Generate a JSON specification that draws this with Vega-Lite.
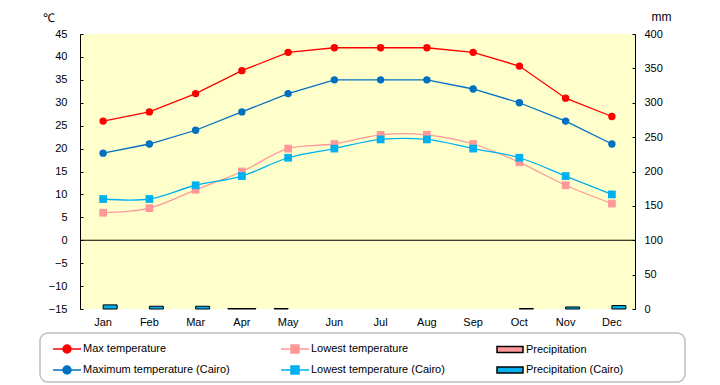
{
  "$schema": "https://vega.github.io/schema/vega-lite/v6.json",
  "width": 555,
  "height": 275,
  "autosize": "none",
  "padding": {"left": 80, "top": 34, "right": 85, "bottom": 76},
  "background": "white",
  "config": {
    "view": {"fill": "#FFFFCC", "stroke": null},
    "font": "Liberation Sans",
    "axis": {"labelFont": "Liberation Sans", "labelFontSize": 11, "labelColor": "black", "domainColor": "black", "tickColor": "black", "grid": false, "titleFont": "Liberation Sans", "titleFontWeight": "normal", "titleFontSize": 12, "titleColor": "black", "labelOverlap": false},
    "legend": {"strokeWidth": 1.5}
  },
  "datasets": {
    "temp": [
      {"month": "Jan", "series": "Max temperature", "value": 26},
      {"month": "Feb", "series": "Max temperature", "value": 28},
      {"month": "Mar", "series": "Max temperature", "value": 32},
      {"month": "Apr", "series": "Max temperature", "value": 37},
      {"month": "May", "series": "Max temperature", "value": 41},
      {"month": "Jun", "series": "Max temperature", "value": 42},
      {"month": "Jul", "series": "Max temperature", "value": 42},
      {"month": "Aug", "series": "Max temperature", "value": 42},
      {"month": "Sep", "series": "Max temperature", "value": 41},
      {"month": "Oct", "series": "Max temperature", "value": 38},
      {"month": "Nov", "series": "Max temperature", "value": 31},
      {"month": "Dec", "series": "Max temperature", "value": 27},
      {"month": "Jan", "series": "Lowest temperature", "value": 6},
      {"month": "Feb", "series": "Lowest temperature", "value": 7},
      {"month": "Mar", "series": "Lowest temperature", "value": 11},
      {"month": "Apr", "series": "Lowest temperature", "value": 15},
      {"month": "May", "series": "Lowest temperature", "value": 20},
      {"month": "Jun", "series": "Lowest temperature", "value": 21},
      {"month": "Jul", "series": "Lowest temperature", "value": 23},
      {"month": "Aug", "series": "Lowest temperature", "value": 23},
      {"month": "Sep", "series": "Lowest temperature", "value": 21},
      {"month": "Oct", "series": "Lowest temperature", "value": 17},
      {"month": "Nov", "series": "Lowest temperature", "value": 12},
      {"month": "Dec", "series": "Lowest temperature", "value": 8},
      {"month": "Jan", "series": "Maximum temperature (Cairo)", "value": 19},
      {"month": "Feb", "series": "Maximum temperature (Cairo)", "value": 21},
      {"month": "Mar", "series": "Maximum temperature (Cairo)", "value": 24},
      {"month": "Apr", "series": "Maximum temperature (Cairo)", "value": 28},
      {"month": "May", "series": "Maximum temperature (Cairo)", "value": 32},
      {"month": "Jun", "series": "Maximum temperature (Cairo)", "value": 35},
      {"month": "Jul", "series": "Maximum temperature (Cairo)", "value": 35},
      {"month": "Aug", "series": "Maximum temperature (Cairo)", "value": 35},
      {"month": "Sep", "series": "Maximum temperature (Cairo)", "value": 33},
      {"month": "Oct", "series": "Maximum temperature (Cairo)", "value": 30},
      {"month": "Nov", "series": "Maximum temperature (Cairo)", "value": 26},
      {"month": "Dec", "series": "Maximum temperature (Cairo)", "value": 21},
      {"month": "Jan", "series": "Lowest temperature (Cairo)", "value": 9},
      {"month": "Feb", "series": "Lowest temperature (Cairo)", "value": 9},
      {"month": "Mar", "series": "Lowest temperature (Cairo)", "value": 12},
      {"month": "Apr", "series": "Lowest temperature (Cairo)", "value": 14},
      {"month": "May", "series": "Lowest temperature (Cairo)", "value": 18},
      {"month": "Jun", "series": "Lowest temperature (Cairo)", "value": 20},
      {"month": "Jul", "series": "Lowest temperature (Cairo)", "value": 22},
      {"month": "Aug", "series": "Lowest temperature (Cairo)", "value": 22},
      {"month": "Sep", "series": "Lowest temperature (Cairo)", "value": 20},
      {"month": "Oct", "series": "Lowest temperature (Cairo)", "value": 18},
      {"month": "Nov", "series": "Lowest temperature (Cairo)", "value": 14},
      {"month": "Dec", "series": "Lowest temperature (Cairo)", "value": 10}
    ],
    "precip": [
      {"month": "Jan", "series": "Precipitation", "value": 0},
      {"month": "Feb", "series": "Precipitation", "value": 0},
      {"month": "Mar", "series": "Precipitation", "value": 0},
      {"month": "Apr", "series": "Precipitation", "value": 0.7},
      {"month": "May", "series": "Precipitation", "value": 0.7},
      {"month": "Jun", "series": "Precipitation", "value": 0},
      {"month": "Jul", "series": "Precipitation", "value": 0},
      {"month": "Aug", "series": "Precipitation", "value": 0},
      {"month": "Sep", "series": "Precipitation", "value": 0},
      {"month": "Oct", "series": "Precipitation", "value": 0},
      {"month": "Nov", "series": "Precipitation", "value": 0},
      {"month": "Dec", "series": "Precipitation", "value": 0},
      {"month": "Jan", "series": "Precipitation (Cairo)", "value": 6},
      {"month": "Feb", "series": "Precipitation (Cairo)", "value": 4},
      {"month": "Mar", "series": "Precipitation (Cairo)", "value": 4},
      {"month": "Apr", "series": "Precipitation (Cairo)", "value": 0.7},
      {"month": "May", "series": "Precipitation (Cairo)", "value": 0},
      {"month": "Jun", "series": "Precipitation (Cairo)", "value": 0},
      {"month": "Jul", "series": "Precipitation (Cairo)", "value": 0},
      {"month": "Aug", "series": "Precipitation (Cairo)", "value": 0},
      {"month": "Sep", "series": "Precipitation (Cairo)", "value": 0},
      {"month": "Oct", "series": "Precipitation (Cairo)", "value": 0.7},
      {"month": "Nov", "series": "Precipitation (Cairo)", "value": 3},
      {"month": "Dec", "series": "Precipitation (Cairo)", "value": 5}
    ]
  },
  "layer": [
    {
      "layer": [
        {
          "data": {"name": "temp"},
          "transform": [{"filter": "indexof(datum.series, 'Max') == 0"}],
          "mark": {"type": "line", "strokeWidth": 1.3},
          "encoding": {
            "x": {"field": "month", "type": "ordinal", "sort": ["Jan","Feb","Mar","Apr","May","Jun","Jul","Aug","Sep","Oct","Nov","Dec"], "scale": {"paddingInner": 0, "paddingOuter": 0}, "axis": {"title": null, "labelAngle": 0, "domain": false, "ticks": false, "labelPadding": 7}},
            "y": {"field": "value", "type": "quantitative", "scale": {"domain": [-15, 45], "nice": false, "zero": false}, "axis": {"orient": "left", "values": [-15,-10,-5,0,5,10,15,20,25,30,35,40,45], "tickCount": 13, "labelOverlap": false, "labelFlush": false, "title": "℃", "titleAngle": 0, "titleX": -32, "titleY": -17, "titleAlign": "center", "titleBaseline": "middle", "tickSize": -3, "labelPadding": 16}},
            "stroke": {"field": "series", "type": "nominal", "scale": {"domain": ["Max temperature","Lowest temperature","Precipitation","Maximum temperature (Cairo)","Lowest temperature (Cairo)","Precipitation (Cairo)"], "range": ["#FF0000","#FF9999","#000000","#0070C0","#00B0F0","#000000"]},
              "legend": {"title": null, "orient": "none", "legendX": -40, "legendY": 299, "columns": 3, "direction": "horizontal", "labelFont": "Liberation Sans", "labelFontSize": 11, "labelColor": "black", "symbolSize": 400, "symbolStrokeWidth": 1.5, "labelOffset": 16, "columnPadding": 43, "rowPadding": 3, "padding": 5, "strokeColor": "#BFBFBF", "cornerRadius": 8, "fillColor": "white", "labelLimit": 400, "gridAlign": "each",
                "labelExpr": "datum.label == 'Precipitation (Cairo)' ? datum.label + '⠀⠀⠀⠀⠀⠀⠀' : datum.label",
                "encode": {
                  "symbols": {"update": {
                  "shape": {"signal": "indexof(datum.value, 'Precipitation') == 0 ? 'M-0.2,-0.3H2.4V0.3H-0.2Z' : (indexof(datum.value, 'Lowest') == 0 ? 'M-0.3,0H2.5M0.7,-0.4H1.5V0.4H0.7Z' : 'M-0.3,0H2.5M1.5,0A0.4,0.4 0 1,1 0.7,0A0.4,0.4 0 1,1 1.5,0Z')"},
                  "strokeWidth": {"signal": "1.5"},
                  "opacity": {"signal": "1"},
                  "fillOpacity": {"signal": "1"}
                }}}
              }
            }
          }
        },
        {
          "data": {"name": "temp"},
          "transform": [{"filter": "indexof(datum.series, 'Lowest') == 0"}],
          "mark": {"type": "line", "strokeWidth": 1.3, "interpolate": "catmull-rom"},
          "encoding": {
            "x": {"field": "month", "type": "ordinal", "sort": ["Jan","Feb","Mar","Apr","May","Jun","Jul","Aug","Sep","Oct","Nov","Dec"]},
            "y": {"field": "value", "type": "quantitative"},
            "stroke": {"field": "series", "type": "nominal"}
          }
        },
        {
          "data": {"name": "temp"},
          "transform": [{"filter": "indexof(datum.series, 'Max') == 0"}],
          "mark": {"type": "point", "filled": true, "shape": "circle", "size": 55, "opacity": 1},
          "encoding": {
            "x": {"field": "month", "type": "ordinal", "sort": ["Jan","Feb","Mar","Apr","May","Jun","Jul","Aug","Sep","Oct","Nov","Dec"]},
            "y": {"field": "value", "type": "quantitative"},
            "fill": {"field": "series", "type": "nominal", "scale": {"domain": ["Max temperature","Lowest temperature","Precipitation","Maximum temperature (Cairo)","Lowest temperature (Cairo)","Precipitation (Cairo)"], "range": ["#FF0000","#FF9999","#FF9999","#0070C0","#00B0F0","#00B0F0"]},
              "legend": {"title": null, "orient": "none", "legendX": -40, "legendY": 299, "columns": 3, "direction": "horizontal", "labelFont": "Liberation Sans", "labelFontSize": 11, "labelColor": "black", "symbolSize": 400, "symbolStrokeWidth": 1.5, "labelOffset": 16, "columnPadding": 43, "rowPadding": 3, "padding": 5, "strokeColor": "#BFBFBF", "cornerRadius": 8, "fillColor": "white", "labelLimit": 400, "gridAlign": "each",
                "labelExpr": "datum.label == 'Precipitation (Cairo)' ? datum.label + '⠀⠀⠀⠀⠀⠀⠀' : datum.label",
                "encode": {
                  "symbols": {"update": {
                  "shape": {"signal": "indexof(datum.value, 'Precipitation') == 0 ? 'M-0.2,-0.3H2.4V0.3H-0.2Z' : (indexof(datum.value, 'Lowest') == 0 ? 'M-0.3,0H2.5M0.7,-0.4H1.5V0.4H0.7Z' : 'M-0.3,0H2.5M1.5,0A0.4,0.4 0 1,1 0.7,0A0.4,0.4 0 1,1 1.5,0Z')"},
                  "strokeWidth": {"signal": "1.5"},
                  "opacity": {"signal": "1"},
                  "fillOpacity": {"signal": "1"}
                }}}
              }
            }
          }
        },
        {
          "data": {"name": "temp"},
          "transform": [{"filter": "indexof(datum.series, 'Lowest') == 0"}],
          "mark": {"type": "point", "filled": true, "shape": "square", "size": 60, "opacity": 1},
          "encoding": {
            "x": {"field": "month", "type": "ordinal", "sort": ["Jan","Feb","Mar","Apr","May","Jun","Jul","Aug","Sep","Oct","Nov","Dec"]},
            "y": {"field": "value", "type": "quantitative"},
            "fill": {"field": "series", "type": "nominal"}
          }
        },
        {
          "data": {"values": [{"level": 0}]},
          "mark": {"type": "rule", "color": "black", "strokeWidth": 1},
          "encoding": {"y": {"field": "level", "type": "quantitative"}}
        }
      ]
    },
    {
      "data": {"name": "precip"},
      "transform": [{"filter": "datum.value > 0"}],
      "mark": {"type": "bar", "strokeWidth": 1},
      "encoding": {
        "x": {"field": "month", "type": "ordinal", "sort": ["Jan","Feb","Mar","Apr","May","Jun","Jul","Aug","Sep","Oct","Nov","Dec"]},
        "xOffset": {"field": "series", "type": "nominal", "scale": {"domain": ["Precipitation","Precipitation (Cairo)"], "paddingInner": 0, "paddingOuter": 0.65}},
        "y": {"field": "value", "type": "quantitative", "scale": {"domain": [0, 400], "nice": false}, "axis": {"orient": "right", "values": [0,50,100,150,200,250,300,350,400], "tickCount": 9, "labelOverlap": false, "labelFlush": false, "title": "mm", "titleAngle": 0, "titleX": 26, "titleY": -18, "titleAlign": "center", "titleBaseline": "middle", "tickSize": -3, "labelPadding": 12, "labelAlign": "left"}},
        "fill": {"field": "series", "type": "nominal"},
        "stroke": {"field": "series", "type": "nominal"}
      }
    }
  ],
  "resolve": {"scale": {"y": "independent"}}
}
